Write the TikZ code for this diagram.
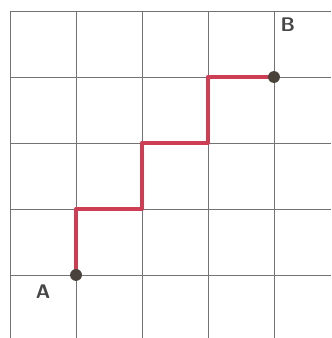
\documentclass[tikz,border=0pt]{standalone}
\usepackage{tikz}
\usetikzlibrary{calc}
\definecolor{pathred}{RGB}{205,62,85}
\definecolor{dotgray}{RGB}{72,66,58}
\definecolor{labelgray}{RGB}{70,70,70}
\pgfdeclarelayer{background}
\pgfsetlayers{background,main}
\tikzset{
  gridline/.style={draw=black!55,line width=0.4pt},
  walk/.style={draw=pathred,line width=1.8pt,line join=round,line cap=round},
  dot/.style={circle,fill=dotgray,inner sep=0pt,minimum size=0.18cm},
  lbl/.style={text=labelgray,font=\sffamily\bfseries\fontsize{8.5}{9}\selectfont}
}
\begin{document}
\begin{tikzpicture}
        \useasboundingbox (-0.152,-0.955) rectangle (4.864,4.167);
        \node[dot] (a) at (1,0) {};
        \node[dot] (b) at (4,3) {};
        \coordinate (c1) at (1,1);
        \coordinate (c2) at (2,1);
        \coordinate (c3) at (2,2);
        \coordinate (c4) at (3,2);
        \coordinate (c5) at (3,3);
        \begin{pgfonlayer}{background}
          \foreach \i in {0,...,4} {
            \draw[gridline] (\i,-0.955) -- (\i,4);
            \draw[gridline] (0,\i) -- (4.864,\i);
          }
          \path[walk] (a.center) -- (c1) -- (c2) -- (c3) -- (c4) -- (c5) -- (b.center);
        \end{pgfonlayer}
        \node[lbl] (la) at ($(a)+(-0.5,-0.26)$) {A};
        \node[lbl] (lb) at ($(b)+(0.21,0.8)$) {B};
      \end{tikzpicture}
\end{document}
